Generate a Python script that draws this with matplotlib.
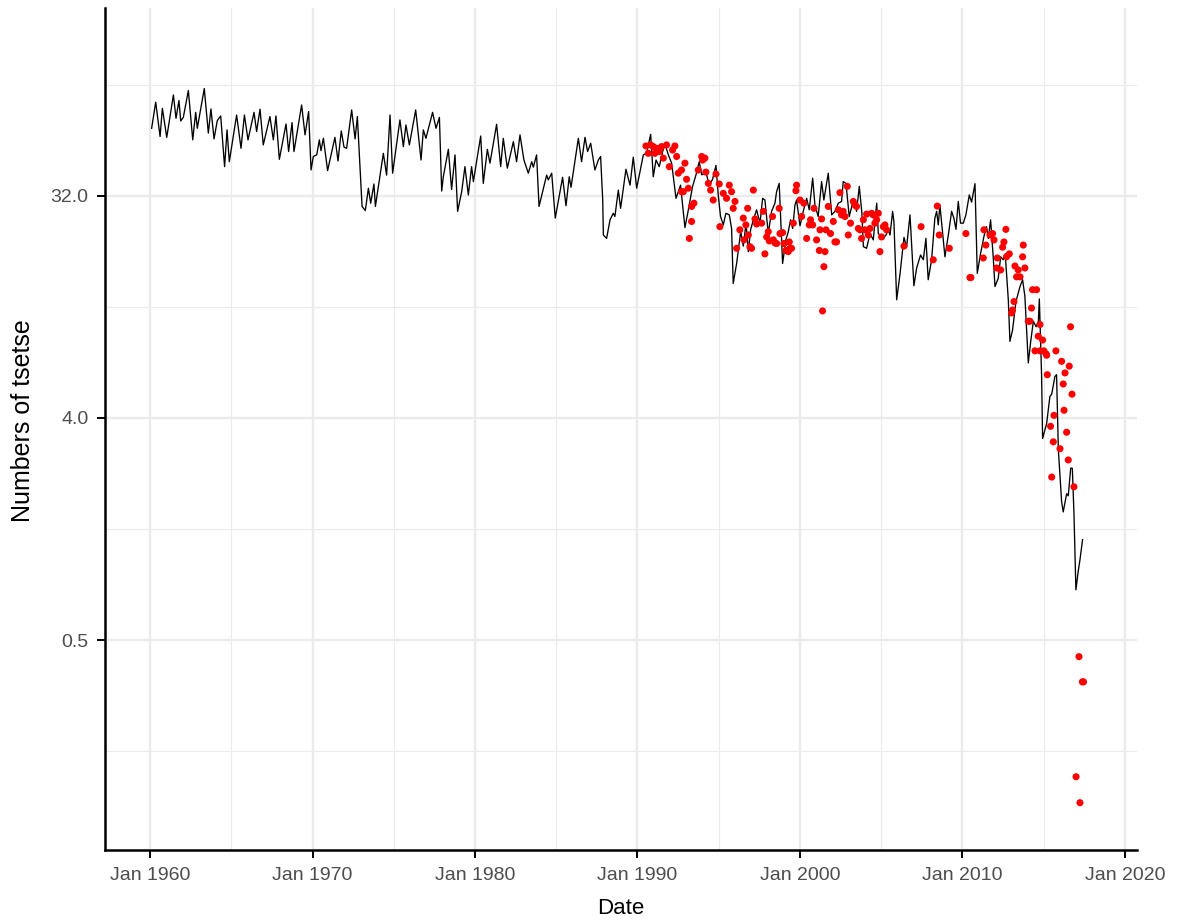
import numpy as np
import matplotlib
matplotlib.use("Agg")
import matplotlib.pyplot as plt

# modelled numbers of tsetse (line): decimal year, count
line_year = [
    1960.10, 1960.35, 1960.62, 1960.76, 1961.03, 1961.44, 1961.60, 1961.78, 1961.89, 1962.05,
    1962.36, 1962.63, 1962.81, 1962.91, 1963.34, 1963.59, 1963.75, 1963.94, 1964.14, 1964.35,
    1964.59, 1964.74, 1964.88, 1965.33, 1965.60, 1965.81, 1966.03, 1966.40, 1966.56, 1966.77,
    1966.97, 1967.38, 1967.59, 1967.75, 1967.96, 1968.37, 1968.53, 1968.74, 1968.86, 1969.33,
    1969.54, 1969.76, 1969.91, 1970.05, 1970.26, 1970.42, 1970.52, 1970.67, 1970.93, 1971.38,
    1971.57, 1971.77, 1971.94, 1972.10, 1972.41, 1972.62, 1972.76, 1973.05, 1973.25, 1973.44,
    1973.58, 1973.78, 1973.87, 1974.36, 1974.56, 1974.77, 1974.93, 1975.38, 1975.59, 1975.75,
    1975.96, 1976.35, 1976.68, 1976.82, 1976.98, 1977.39, 1977.60, 1977.81, 1977.95, 1978.05,
    1978.36, 1978.56, 1978.77, 1978.93, 1979.18, 1979.38, 1979.59, 1979.79, 1979.90, 1980.35,
    1980.51, 1980.76, 1980.92, 1981.33, 1981.58, 1981.74, 1981.99, 1982.36, 1982.56, 1982.77,
    1983.01, 1983.28, 1983.49, 1983.59, 1983.79, 1983.94, 1984.41, 1984.51, 1984.72, 1984.94,
    1985.39, 1985.60, 1985.80, 1985.91, 1986.36, 1986.56, 1986.77, 1986.93, 1987.12, 1987.38,
    1987.59, 1987.73, 1987.86, 1987.90, 1988.10, 1988.31, 1988.51, 1988.61, 1988.82, 1988.96,
    1989.29, 1989.54, 1989.74, 1989.95, 1990.36, 1990.56, 1990.81, 1990.97, 1991.14, 1991.34,
    1991.55, 1991.69, 1991.90, 1992.10, 1992.37, 1992.65, 1992.92, 1993.13, 1993.39, 1993.60,
    1993.80, 1993.95, 1994.21, 1994.42, 1994.62, 1994.83, 1994.97, 1995.11, 1995.28, 1995.44,
    1995.65, 1995.79, 1995.89, 1996.10, 1996.35, 1996.51, 1996.68, 1996.82, 1996.96, 1997.13,
    1997.33, 1997.54, 1997.70, 1997.84, 1998.05, 1998.25, 1998.46, 1998.56, 1998.72, 1998.93,
    1999.13, 1999.28, 1999.42, 1999.55, 1999.69, 1999.79, 2000.00, 2000.20, 2000.41, 2000.57,
    2000.78, 2000.92, 2001.12, 2001.33, 2001.47, 2001.74, 2001.95, 2002.15, 2002.36, 2002.56,
    2002.66, 2002.83, 2003.03, 2003.24, 2003.38, 2003.48, 2003.65, 2003.81, 2003.90, 2004.10,
    2004.31, 2004.51, 2004.72, 2004.82, 2005.13, 2005.29, 2005.43, 2005.54, 2005.70, 2005.78,
    2005.95, 2006.15, 2006.40, 2006.56, 2006.77, 2007.01, 2007.18, 2007.42, 2007.59, 2007.75,
    2007.89, 2008.10, 2008.30, 2008.41, 2008.51, 2008.61, 2008.92, 2009.13, 2009.33, 2009.47,
    2009.60, 2009.74, 2009.88, 2010.05, 2010.21, 2010.42, 2010.56, 2010.77, 2010.91, 2011.11,
    2011.32, 2011.48, 2011.59, 2011.73, 2011.89, 2012.00, 2012.20, 2012.35, 2012.51, 2012.63,
    2012.82, 2012.92, 2013.08, 2013.29, 2013.54, 2013.70, 2013.84, 2014.05, 2014.19, 2014.36,
    2014.53, 2014.67, 2014.73, 2014.87, 2014.93, 2015.18, 2015.38, 2015.49, 2015.69, 2015.79,
    2015.90, 2016.10, 2016.20, 2016.41, 2016.51, 2016.66, 2016.76, 2016.86, 2016.98, 2017.13,
    2017.23, 2017.39,
]
line_n = [
    60.3, 77.0, 55.8, 72.7, 55.4, 82.4, 66.2, 78.2, 64.6, 66.8,
    85.9, 54.1, 70.0, 60.3, 87.5, 57.6, 72.3, 54.6, 64.8, 67.7,
    42.1, 59.4, 44.1, 68.3, 50.0, 68.3, 54.1, 70.0, 58.5, 72.1,
    51.6, 67.3, 54.1, 67.7, 45.1, 62.8, 48.5, 63.6, 48.5, 75.0,
    56.7, 70.5, 40.8, 46.3, 47.0, 54.1, 48.9, 54.9, 40.6, 55.4,
    44.4, 58.8, 50.5, 50.0, 71.6, 54.6, 67.3, 29.0, 27.9, 34.4,
    29.9, 35.8, 29.0, 47.7, 38.9, 68.3, 39.6, 65.2, 50.8, 62.2,
    51.6, 71.6, 44.8, 59.4, 54.9, 70.0, 60.3, 66.8, 33.5, 38.3,
    49.5, 34.0, 47.0, 27.7, 33.3, 42.1, 32.3, 42.1, 36.6, 56.1,
    36.0, 49.5, 43.5, 62.6, 42.1, 54.9, 41.5, 53.2, 44.1, 56.7,
    44.8, 39.6, 44.1, 41.9, 47.0, 29.0, 38.9, 37.2, 39.6, 26.0,
    38.1, 29.2, 38.3, 34.7, 54.9, 44.1, 55.4, 48.5, 52.4, 40.8,
    44.8, 46.3, 30.8, 22.2, 21.5, 25.6, 27.2, 26.4, 33.8, 28.5,
    41.1, 35.4, 46.0, 34.4, 47.0, 47.7, 57.0, 38.3, 44.8, 42.1,
    48.5, 52.1, 47.0, 43.5, 31.3, 35.4, 23.8, 28.1, 35.0, 39.0,
    44.1, 39.0, 40.0, 35.4, 37.4, 42.6, 32.3, 26.4, 24.4, 27.2,
    26.8, 23.6, 14.1, 17.0, 22.9, 20.0, 24.8, 19.0, 23.3, 25.6,
    28.1, 24.8, 31.3, 30.8, 22.5, 27.7, 29.9, 33.3, 36.0, 17.0,
    21.2, 22.9, 25.6, 23.6, 29.4, 30.8, 24.2, 27.7, 31.3, 28.1,
    37.8, 29.4, 26.4, 36.6, 30.8, 39.6, 26.8, 27.7, 29.9, 30.4,
    36.6, 36.0, 26.4, 29.9, 30.8, 27.7, 35.0, 27.2, 19.9, 19.6,
    22.5, 21.2, 29.9, 22.5, 21.5, 22.2, 23.3, 22.2, 27.7, 25.2,
    12.1, 15.3, 21.7, 19.8, 26.8, 13.8, 16.3, 18.4, 17.6, 21.5,
    14.6, 17.6, 26.0, 27.7, 24.4, 29.4, 18.1, 22.2, 27.7, 26.0,
    23.4, 30.4, 24.8, 24.8, 26.8, 32.3, 30.2, 35.9, 15.5, 18.6,
    21.9, 24.0, 21.5, 25.6, 18.1, 13.7, 14.8, 18.1, 17.6, 18.6,
    12.1, 8.2, 9.1, 11.9, 13.7, 14.6, 12.5, 6.7, 8.1, 9.9,
    9.4, 9.9, 12.2, 5.9, 3.3, 3.8, 4.9, 5.0, 5.9, 6.0,
    2.97, 1.83, 1.66, 1.97, 1.93, 2.5, 2.5, 1.64, 0.80, 0.96,
    1.06, 1.28,
]

# observed catches (red points)
obs_year = [
    1990.52, 1990.66, 1990.81, 1990.97, 1991.07, 1991.18, 1991.34, 1991.48, 1991.59, 1991.79,
    1991.96, 1992.16, 1992.30, 1992.41, 1992.51, 1992.71, 1992.92, 1993.02, 1993.13, 1993.33,
    1993.47, 1993.33, 1993.19, 1992.82, 1992.71, 1993.74, 1993.95, 1994.15, 1994.21, 1994.01,
    1994.36, 1994.50, 1994.66, 1994.83, 1995.03, 1995.07, 1995.28, 1995.48, 1995.65, 1995.79,
    1995.89, 1996.00, 1996.10, 1996.30, 1996.51, 1996.55, 1996.67, 1996.78, 1996.82, 1996.92,
    1997.02, 1997.13, 1997.23, 1997.33, 1997.64, 1997.74, 1997.84, 1997.95, 1998.05, 1998.11,
    1998.31, 1998.36, 1998.46, 1998.56, 1998.72, 1998.77, 1998.93, 1999.01, 1999.13, 1999.28,
    1999.38, 1999.48, 1999.34, 1999.59, 1999.75, 1999.79, 2000.00, 2000.10, 2000.24, 2000.41,
    2000.57, 2000.65, 2000.78, 2000.86, 2001.02, 2001.19, 2001.23, 2001.33, 2001.47, 2001.54,
    2001.39, 2001.60, 2001.74, 2001.88, 2002.05, 2002.15, 2002.25, 2002.36, 2002.46, 2002.56,
    2002.66, 2002.77, 2002.91, 2002.97, 2003.11, 2003.28, 2003.38, 2003.48, 2003.59, 2003.69,
    2003.79, 2003.90, 2004.00, 2004.10, 2004.20, 2004.31, 2004.41, 2004.51, 2004.61, 2004.72,
    2004.82, 2004.92, 2005.02, 2005.13, 2005.23, 2005.33, 2006.40, 2007.45, 2008.20, 2008.45,
    2008.57, 2009.19, 2010.21, 2010.46, 2010.52, 2011.28, 2011.32, 2011.44, 2011.69, 2011.85,
    2011.94, 2012.14, 2012.10, 2012.35, 2012.47, 2012.55, 2012.67, 2012.71, 2012.88, 2013.23,
    2013.33, 2013.43, 2013.54, 2013.70, 2013.74, 2013.84, 2014.31, 2014.56, 2014.25, 2014.05,
    2014.15, 2013.08, 2013.02, 2013.17, 2014.77, 2014.66, 2014.93, 2016.65, 2014.46, 2014.77,
    2015.01, 2015.14, 2015.18, 2015.75, 2016.10, 2016.57, 2016.31, 2016.20, 2015.22, 2016.74,
    2016.25, 2015.63, 2015.42, 2016.41, 2015.59, 2016.00, 2016.51, 2015.49, 2016.86, 2016.99,
    2017.17, 2017.23, 2017.38, 2017.45,
]
obs_n = [
    51.1, 47.7, 51.6, 50.8, 47.7, 50.0, 48.5, 50.8, 45.6, 51.6,
    42.1, 49.2, 51.1, 46.3, 39.6, 40.8, 43.5, 37.4, 34.4, 29.0,
    29.9, 25.2, 21.5, 33.3, 33.3, 40.8, 46.3, 45.6, 40.0, 44.8,
    36.0, 33.8, 30.8, 39.3, 35.8, 24.0, 32.8, 31.3, 35.4, 33.3,
    28.5, 30.4, 19.6, 23.3, 26.0, 21.2, 24.4, 28.5, 22.2, 19.9,
    19.6, 33.8, 25.8, 24.6, 24.8, 27.7, 18.6, 21.8, 22.9, 21.0,
    26.4, 21.2, 20.6, 20.5, 28.5, 22.5, 22.7, 20.5, 19.2, 19.0,
    19.6, 19.6, 20.8, 24.8, 33.6, 35.4, 30.8, 26.4, 29.9, 21.5,
    24.4, 25.6, 24.4, 28.5, 21.2, 19.2, 23.3, 25.8, 16.5, 19.0,
    10.9, 23.3, 29.0, 22.5, 25.2, 20.8, 20.8, 28.1, 33.0, 26.8,
    27.7, 26.4, 35.0, 22.2, 24.8, 30.4, 29.4, 29.0, 23.6, 23.3,
    21.5, 25.6, 23.3, 27.0, 22.2, 23.6, 27.2, 26.8, 24.8, 25.6,
    27.2, 19.0, 21.8, 24.0, 24.4, 23.3, 20.0, 24.0, 17.6, 29.1,
    22.2, 19.6, 22.5, 14.9, 14.9, 17.9, 23.3, 20.2, 22.2, 22.5,
    21.2, 17.9, 16.3, 16.0, 19.8, 20.8, 23.4, 18.1, 18.6, 16.6,
    15.0, 16.0, 15.0, 18.1, 20.2, 16.3, 13.3, 13.3, 11.2, 9.9,
    9.9, 11.0, 10.7, 11.9, 9.6, 8.6, 8.3, 9.4, 7.5, 7.5,
    7.5, 7.3, 7.2, 7.5, 6.8, 6.5, 6.1, 5.5, 6.0, 5.0,
    4.3, 4.1, 3.7, 3.5, 3.2, 3.0, 2.7, 2.3, 2.1, 0.139,
    0.428, 0.109, 0.338, 0.338,
]

x_ticks = [1960, 1970, 1980, 1990, 2000, 2010, 2020]
x_labels = ["Jan %d" % y for y in x_ticks]
y_ticks = [0.5, 4.0, 32.0]
y_labels = ["0.5", "4.0", "32.0"]

plt.rcParams["font.family"] = ["Liberation Sans", "DejaVu Sans"]

W, H = 1183, 922
fig = plt.figure(figsize=(W / 100, H / 100), dpi=100)
ax = fig.add_axes([105 / W, 1 - 850 / H, (1137 - 105) / W, (850 - 8) / H])

ax.set_yscale("log", base=2)
ax.set_xlim(1957.23, 2020.74)
ax.set_ylim(0.07, 186)

ax.plot(line_year, line_n, color="black", lw=0.95, zorder=3)
ax.scatter(obs_year, obs_n, s=26, color="red", edgecolors="none", zorder=4)

ax.set_xticks(x_ticks)
ax.set_xticklabels(x_labels)
ax.set_xticks([1965, 1975, 1985, 1995, 2005, 2015], minor=True)
ax.set_yticks(y_ticks)
ax.set_yticklabels(y_labels)
# minor grid half way (on the log scale) between the labelled breaks
ax.set_yticks([y * np.sqrt(8) for y in [0.0625] + y_ticks], minor=True)
ax.yaxis.set_minor_formatter(matplotlib.ticker.NullFormatter())

ax.grid(which="major", color="#EBEBEB", lw=1.7, zorder=0)
ax.grid(which="minor", color="#EBEBEB", lw=0.85, zorder=0)
ax.set_axisbelow(True)

for s in ["top", "right"]:
    ax.spines[s].set_visible(False)
for s in ["left", "bottom"]:
    ax.spines[s].set_linewidth(1.8)
    ax.spines[s].set_color("black")

ax.tick_params(which="major", length=6, width=1.4, color="black",
               labelsize=14, labelcolor="#4D4D4D", pad=6)
ax.tick_params(which="minor", length=0)

ax.set_xlabel("Date", fontsize=16, labelpad=10)
ax.set_ylabel("Numbers of tsetse", fontsize=18, labelpad=8)
ax.yaxis.set_label_coords(-0.068, 0.51)

fig.savefig("out.png", dpi=100)
